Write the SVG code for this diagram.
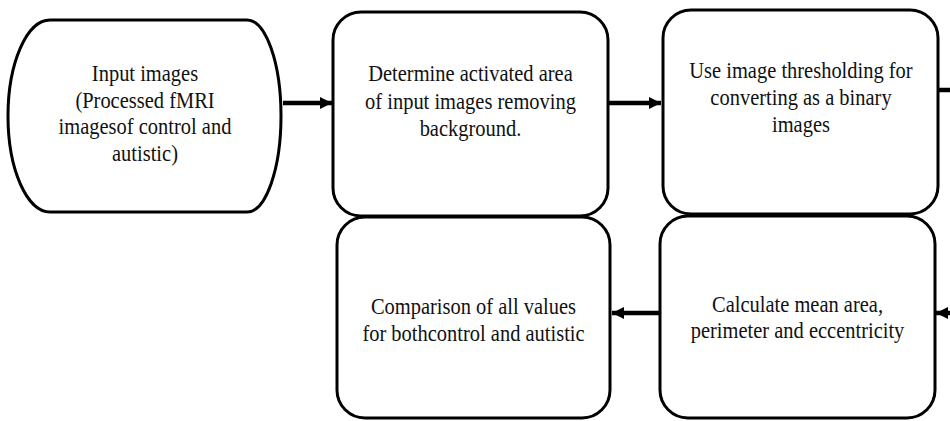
<svg xmlns="http://www.w3.org/2000/svg" width="950" height="421" viewBox="0 0 950 421">
<style>
.box{fill:#fff;stroke:#000;stroke-width:3}
.lbl{font-family:"Liberation Serif","Times New Roman",serif;font-size:23px;fill:#111;text-anchor:middle}
.conn{stroke:#000;stroke-width:4.5;fill:none}
</style>
<defs>
<marker id="ah" markerUnits="userSpaceOnUse" markerWidth="13" markerHeight="13" refX="12" refY="6" orient="auto">
<path d="M0,0 L12,6 L0,12 Z" fill="#000"/>
</marker>
</defs>
<rect width="950" height="421" fill="#fff"/>
<g id="connectors">
<line class="conn" x1="283" y1="103" x2="332" y2="103" marker-end="url(#ah)"/>
<line class="conn" x1="609" y1="103" x2="661" y2="103" marker-end="url(#ah)"/>
<line class="conn" x1="938" y1="90" x2="950" y2="90"/>
<line class="conn" x1="659" y1="313" x2="612" y2="313" marker-end="url(#ah)"/>
<line class="conn" x1="950" y1="313" x2="936" y2="313" marker-end="url(#ah)"/>
</g>
<g id="n1">
<path class="box" d="M50,20 H247 A34,96 0 0 1 247,212 H50 A42,96 0 0 1 50,20 Z"/>
<g transform="translate(145 0) scale(0.89 1)">
<text class="lbl" x="0" y="81">Input images</text>
<text class="lbl" x="0" y="108">(Processed fMRI</text>
<text class="lbl" x="0" y="134">imagesof control and</text>
<text class="lbl" x="0" y="161">autistic)</text>
</g>
</g>
<g id="n2">
<rect class="box" x="333" y="12" width="275" height="204" rx="28" ry="28"/>
<g transform="translate(470.5 0) scale(0.89 1)">
<text class="lbl" x="0" y="81">Determine activated area</text>
<text class="lbl" x="0" y="109">of input images removing</text>
<text class="lbl" x="0" y="136">background.</text>
</g>
</g>
<g id="n3">
<rect class="box" x="663" y="10" width="275" height="204" rx="28" ry="28"/>
<g transform="translate(801 0) scale(0.89 1)">
<text class="lbl" x="0" y="78">Use image thresholding for</text>
<text class="lbl" x="0" y="105">converting as a binary</text>
<text class="lbl" x="0" y="132">images</text>
</g>
</g>
<g id="n4">
<rect class="box" x="337" y="217" width="273" height="201" rx="28" ry="28"/>
<g transform="translate(473.5 0) scale(0.89 1)">
<text class="lbl" x="0" y="314">Comparison of all values</text>
<text class="lbl" x="0" y="341">for bothcontrol and autistic</text>
</g>
</g>
<g id="n5">
<rect class="box" x="660" y="216" width="275" height="202" rx="28" ry="28"/>
<g transform="translate(797.5 0) scale(0.89 1)">
<text class="lbl" x="0" y="312">Calculate mean area,</text>
<text class="lbl" x="0" y="338">perimeter and eccentricity</text>
</g>
</g>
</svg>
